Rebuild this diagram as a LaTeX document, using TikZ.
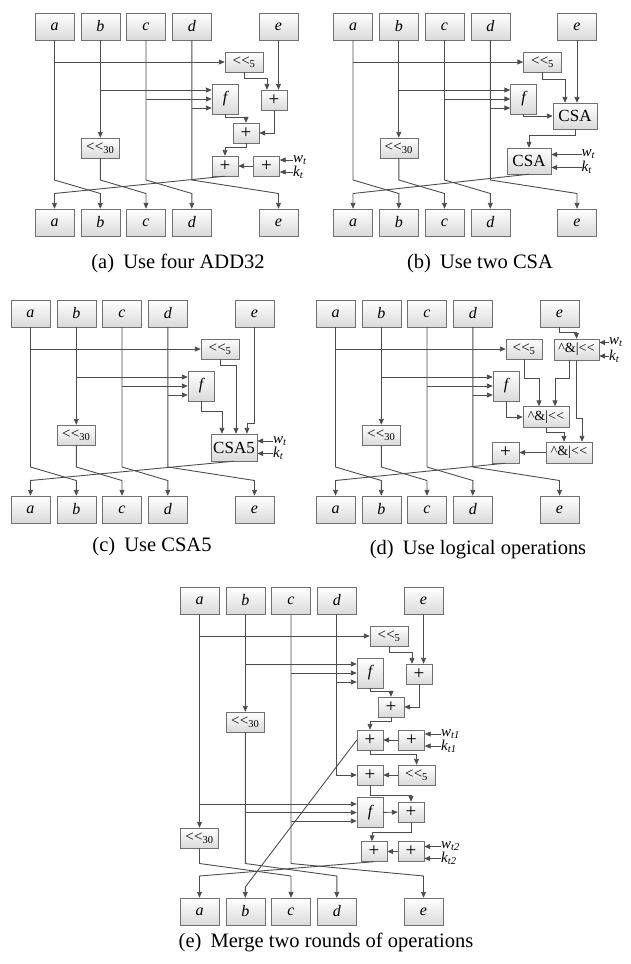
\documentclass[tikz,border=0pt]{standalone}
\usepackage{fontspec}
\setmainfont{Liberation Serif}
\usetikzlibrary{arrows.meta, positioning, calc}
\definecolor{wirecol}{HTML}{4D4D4D}
\definecolor{boxline}{HTML}{707070}
\definecolor{boxtop}{HTML}{FFFFFF}
\definecolor{boxbot}{HTML}{DADADA}
\newcommand{\shl}[1]{\textless\kern0.3pt\textless\textsubscript{#1}}
\newcommand{\ital}[2]{\textit{#1}\textsubscript{#2}}
\newcommand{\logop}{\textasciicircum\&|\textless\kern0.3pt\textless}
\tikzset{
  regbox/.style={draw=boxline, top color=boxtop, bottom color=boxbot,
                 minimum width=39pt, minimum height=27pt, inner sep=0pt,
                 font=\fontsize{16}{16}\selectfont\itshape},
  opbox/.style={draw=boxline, top color=boxtop, bottom color=boxbot,
                minimum width=26pt, minimum height=20pt, inner sep=0pt,
                font=\fontsize{15}{15}\selectfont},
  addbox/.style={opbox, font=\fontsize{19}{19}\selectfont},
  shbox/.style={opbox, minimum width=38pt},
  fnbox/.style={opbox, minimum height=30pt, font=\fontsize{16}{16}\selectfont\itshape},
  csabox/.style={opbox, minimum width=44pt, minimum height=26pt,
                 font=\fontsize{17}{17}\selectfont},
  logbox/.style={opbox, minimum width=46pt, minimum height=21pt,
                 font=\fontsize{14}{14}\selectfont},
  arr/.style={draw=wirecol, line width=0.9pt, -{Triangle[length=6pt,width=5pt]}},
  inlbl/.style={font=\fontsize{15}{15}\selectfont\itshape, inner sep=0pt, anchor=west},
  capt/.style={font=\fontsize{20.5}{22}\selectfont, anchor=base},
}

\begin{document}
\begin{tikzpicture}[x=1pt,y=-1pt]
\useasboundingbox (0,0) rectangle (631,964);

% ---------------- (a) four ADD32
\begin{scope}
  \foreach \r/\x in {a/54.5,b/100.3,c/146,d/191.8,e/278.5} {
    \node[regbox] (A-i\r) at (\x,26.5) {\r};
    \node[regbox] (A-o\r) at (\x,222.5) {\r};
  }
  \coordinate (A-turn) at (0,180);
  \coordinate (A-dend) at (0,193.5);
  \node[shbox] (A-sh5) at (244,62) {\shl{5}};
  \node[fnbox] (A-f) at (225,99) {f};
  \node[addbox] (A-p1) at (274,100) {+};
  \node[addbox] (A-p2) at (246,133) {+};
  \node[addbox] (A-p3) at (225,166) {+};
  \node[addbox] (A-p4) at (266.5,166) {+};
  \node[shbox] (A-sh30) at (100.3,148) {\shl{30}};
  \node[inlbl] (A-w) at (293,160) {\ital{w}{\textit{t}}};
  \node[inlbl] (A-k) at (293,172) {\ital{k}{\textit{t}}};
  \coordinate (A-fi1) at ($(A-f.west)+(0,-9)$);
  \coordinate (A-fi2) at (A-f.west);
  \coordinate (A-fi3) at ($(A-f.west)+(0,9)$);
  % register lines
  \draw[arr] (A-ia) -- (A-ia |- A-turn) -- (A-ob |- A-dend) -- (A-ob);
  \draw[arr] (A-ib) -- (A-sh30);
  \draw[arr] (A-sh30) -- (A-sh30 |- A-turn) -- (A-oc |- A-dend) -- (A-oc);
  \draw[arr] (A-ic) -- (A-ic |- A-turn) -- (A-od |- A-dend) -- (A-od);
  \draw[arr] (A-id) -- (A-id |- A-turn) -- (A-oe |- A-dend) -- (A-oe);
  \draw[arr] (A-ie) -- (A-ie |- A-p1.north);
  % taps
  \draw[arr] (A-ia |- A-sh5) -- (A-sh5);
  \draw[arr] (A-ib |- A-fi1) -- (A-fi1);
  \draw[arr] (A-ic |- A-fi2) -- (A-fi2);
  \draw[arr] (A-id |- A-fi3) -- (A-fi3);
  % adders
  \draw[arr] (A-sh5.south) -- ++(0,6) -| ($(A-p1.north)+(-7,0)$);
  \draw[arr] (A-f.south) -- ++(0,3) -| (A-p2.north);
  \draw[arr] (A-p1) |- (A-p2);
  \draw[arr] (A-p2.south) -- ++(0,4) -| (A-p3.north);
  \draw[arr] (A-p4) -- (A-p3);
  \draw[arr] (A-w.west) -- (A-w.west -| A-p4.east);
  \draw[arr] (A-k.west) -- (A-k.west -| A-p4.east);
  \draw[arr] (A-p3.south) -- (A-oa |- A-dend) -- (A-oa);
  \node[capt] (A-cap) at (178,268) {(a)\hspace{0.45em}Use four ADD32};
\end{scope}

% ---------------- (b) two CSA
\begin{scope}[shift={(298.5,0)}]
  \foreach \r/\x in {a/54.5,b/100.3,c/146,d/191.8,e/278.5} {
    \node[regbox] (B-i\r) at (\x,26.5) {\r};
    \node[regbox] (B-o\r) at (\x,222.5) {\r};
  }
  \coordinate (B-turn) at (0,180);
  \coordinate (B-dend) at (0,193.5);
  \node[shbox] (B-sh5) at (244,62) {\shl{5}};
  \node[fnbox] (B-f) at (225,99) {f};
  \node[csabox] (B-csa1) at (276.5,116) {CSA};
  \node[csabox] (B-csa2) at (230.5,161) {CSA};
  \node[shbox] (B-sh30) at (100.3,148) {\shl{30}};
  \node[inlbl] (B-w) at (283,154.5) {\ital{w}{\textit{t}}};
  \node[inlbl] (B-k) at (283,167.5) {\ital{k}{\textit{t}}};
  \coordinate (B-fi1) at ($(B-f.west)+(0,-9)$);
  \coordinate (B-fi2) at (B-f.west);
  \coordinate (B-fi3) at ($(B-f.west)+(0,9)$);
  \draw[arr] (B-ia) -- (B-ia |- B-turn) -- (B-ob |- B-dend) -- (B-ob);
  \draw[arr] (B-ib) -- (B-sh30);
  \draw[arr] (B-sh30) -- (B-sh30 |- B-turn) -- (B-oc |- B-dend) -- (B-oc);
  \draw[arr] (B-ic) -- (B-ic |- B-turn) -- (B-od |- B-dend) -- (B-od);
  \draw[arr] (B-id) -- (B-id |- B-turn) -- (B-oe |- B-dend) -- (B-oe);
  \draw[arr] (B-ie) -- (B-ie |- B-csa1.north);
  \draw[arr] (B-ia |- B-sh5) -- (B-sh5);
  \draw[arr] (B-ib |- B-fi1) -- (B-fi1);
  \draw[arr] (B-ic |- B-fi2) -- (B-fi2);
  \draw[arr] (B-id |- B-fi3) -- (B-fi3);
  \draw[arr] (B-sh5.south) -- ++(0,7) -| ($(B-csa1.north)+(-10,0)$);
  \draw[arr] (B-f.south) |- (B-csa1);
  \draw[arr] (B-csa1.south) -- ++(0,6) -| (B-csa2.north);
  \draw[arr] (B-w.west) -- (B-w.west -| B-csa2.east);
  \draw[arr] (B-k.west) -- (B-k.west -| B-csa2.east);
  \draw[arr] (B-csa2.south) -- (B-oa |- B-dend) -- (B-oa);
  \node[capt] (B-cap) at (181.5,268) {(b)\hspace{0.45em}Use two CSA};
\end{scope}

% ---------------- (c) CSA5
\begin{scope}[shift={(-24,287)}]
  \foreach \r/\x in {a/54.5,b/100.3,c/146,d/191.8,e/278.5} {
    \node[regbox] (C-i\r) at (\x,26.5) {\r};
    \node[regbox] (C-o\r) at (\x,222.5) {\r};
  }
  \coordinate (C-turn) at (0,180);
  \coordinate (C-dend) at (0,193.5);
  \node[shbox] (C-sh5) at (244,62) {\shl{5}};
  \node[fnbox] (C-f) at (225,99) {f};
  \node[csabox, minimum width=46pt, minimum height=27pt] (C-csa5) at (258,160.5) {CSA5};
  \node[shbox] (C-sh30) at (100.3,148) {\shl{30}};
  \node[inlbl] (C-w) at (297,154) {\ital{w}{\textit{t}}};
  \node[inlbl] (C-k) at (297,166.5) {\ital{k}{\textit{t}}};
  \coordinate (C-fi1) at ($(C-f.west)+(0,-9)$);
  \coordinate (C-fi2) at (C-f.west);
  \coordinate (C-fi3) at ($(C-f.west)+(0,9)$);
  \draw[arr] (C-ia) -- (C-ia |- C-turn) -- (C-ob |- C-dend) -- (C-ob);
  \draw[arr] (C-ib) -- (C-sh30);
  \draw[arr] (C-sh30) -- (C-sh30 |- C-turn) -- (C-oc |- C-dend) -- (C-oc);
  \draw[arr] (C-ic) -- (C-ic |- C-turn) -- (C-od |- C-dend) -- (C-od);
  \draw[arr] (C-id) -- (C-id |- C-turn) -- (C-oe |- C-dend) -- (C-oe);
  \draw[arr] (C-ia |- C-sh5) -- (C-sh5);
  \draw[arr] (C-ib |- C-fi1) -- (C-fi1);
  \draw[arr] (C-ic |- C-fi2) -- (C-fi2);
  \draw[arr] (C-id |- C-fi3) -- (C-fi3);
  \draw[arr] (C-f.south) -- ++(0,10) -| ($(C-csa5.north)+(-12,0)$);
  \draw[arr] (C-sh5.south) -- ++(0,6) -| ($(C-csa5.north)+(2,0)$);
  \draw[arr] (C-ie.south) -- ++(0,96) -| ($(C-csa5.north)+(13,0)$);
  \draw[arr] (C-w.west) -- (C-w.west -| C-csa5.east);
  \draw[arr] (C-k.west) -- (C-k.west -| C-csa5.east);
  \draw[arr] (C-csa5.south) -- (C-oa |- C-dend) -- (C-oa);
  \node[capt] (C-cap) at (176,264) {(c)\hspace{0.45em}Use CSA5};
\end{scope}

% ---------------- (d) logical operations
\begin{scope}[shift={(281,287)}]
  \foreach \r/\x in {a/54.5,b/100.3,c/146,d/191.8,e/278.5} {
    \node[regbox] (D-i\r) at (\x,26.5) {\r};
    \node[regbox] (D-o\r) at (\x,222.5) {\r};
  }
  \coordinate (D-turn) at (0,180);
  \coordinate (D-dend) at (0,193.5);
  \node[shbox, minimum width=36pt] (D-sh5) at (243,62) {\shl{5}};
  \node[fnbox] (D-f) at (225,99) {f};
  \node[logbox, minimum width=45pt] (D-l1) at (295.5,62.5) {\logop};
  \node[logbox] (D-l2) at (265,130) {\logop};
  \node[logbox] (D-l3) at (288,165.5) {\logop};
  \node[addbox, minimum width=27pt, minimum height=21pt] (D-p) at (224.5,165.5) {+};
  \node[shbox] (D-sh30) at (100.3,148) {\shl{30}};
  \node[inlbl] (D-w) at (328,55.5) {\ital{w}{\textit{t}}};
  \node[inlbl] (D-k) at (328,69) {\ital{k}{\textit{t}}};
  \coordinate (D-fi1) at ($(D-f.west)+(0,-9)$);
  \coordinate (D-fi2) at (D-f.west);
  \coordinate (D-fi3) at ($(D-f.west)+(0,9)$);
  \draw[arr] (D-ia) -- (D-ia |- D-turn) -- (D-ob |- D-dend) -- (D-ob);
  \draw[arr] (D-ib) -- (D-sh30);
  \draw[arr] (D-sh30) -- (D-sh30 |- D-turn) -- (D-oc |- D-dend) -- (D-oc);
  \draw[arr] (D-ic) -- (D-ic |- D-turn) -- (D-od |- D-dend) -- (D-od);
  \draw[arr] (D-id) -- (D-id |- D-turn) -- (D-oe |- D-dend) -- (D-oe);
  \draw[arr] (D-ia |- D-sh5) -- (D-sh5);
  \draw[arr] (D-ib |- D-fi1) -- (D-fi1);
  \draw[arr] (D-ic |- D-fi2) -- (D-fi2);
  \draw[arr] (D-id |- D-fi3) -- (D-fi3);
  \draw[arr] (D-ie.south) -- ++(0,5) -| (D-l1.north);
  \draw[arr] (D-w.west) -- (D-w.west -| D-l1.east);
  \draw[arr] (D-k.west) -- (D-k.west -| D-l1.east);
  \draw[arr] (D-sh5.south) -- ++(0,19) -| ($(D-l2.north)+(-7,0)$);
  \draw[arr] ($(D-l1.south)+(-7.5,0)$) -- ++(0,18.5) -| ($(D-l2.north)+(9,0)$);
  \draw[arr] (D-l1.south) -- ++(0,58) -| ($(D-l3.north)+(13,0)$);
  \draw[arr] (D-f.south) |- (D-l2);
  \draw[arr] (D-l2.south) -- ++(0,5) -| ($(D-l3.north)+(-5,0)$);
  \draw[arr] (D-l3) -- (D-p);
  \draw[arr] (D-p.south) -- (D-oa |- D-dend) -- (D-oa);
  \node[capt] (D-cap) at (197,267) {(d)\hspace{0.45em}Use logical operations};
\end{scope}

% ---------------- (e) two rounds merged
\begin{scope}[shift={(145,574)}]
  \foreach \r/\x in {a/54.5,b/100.3,c/146,d/191.8,e/278.5} {
    \node[regbox] (E-i\r) at (\x,26.5) {\r};
    \node[regbox] (E-o\r) at (\x,337.5) {\r};
  }
  \coordinate (E-turn) at (0,289.5);
  \coordinate (E-dend) at (0,302);
  \coordinate (E-bend) at (0,313);
  % first round
  \node[shbox] (E-sh5a) at (244,62) {\shl{5}};
  \node[fnbox] (E-f1) at (225,99) {f};
  \node[addbox] (E-pa) at (274,100) {+};
  \node[addbox] (E-pb) at (246,133) {+};
  \node[addbox] (E-pc) at (225,166) {+};
  \node[addbox] (E-pd) at (266.5,166) {+};
  \node[shbox] (E-sh30a) at (100.3,148) {\shl{30}};
  \node[inlbl] (E-w1) at (296,160) {\ital{w}{\textit{t}1}};
  \node[inlbl] (E-k1) at (296,172) {\ital{k}{\textit{t}1}};
  % second round
  \node[shbox, minimum width=37pt] (E-sh5b) at (271.5,201) {\shl{5}};
  \node[addbox] (E-pe) at (225,201) {+};
  \node[fnbox] (E-f2) at (225,238.5) {f};
  \node[addbox] (E-pg) at (266,238) {+};
  \node[addbox] (E-pf) at (229,277.5) {+};
  \node[addbox] (E-ph) at (266,277.5) {+};
  \node[shbox] (E-sh30b) at (54.5,264) {\shl{30}};
  \node[inlbl] (E-w2) at (296,272.5) {\ital{w}{\textit{t}2}};
  \node[inlbl] (E-k2) at (296,284.5) {\ital{k}{\textit{t}2}};
  \coordinate (E-fi1) at ($(E-f1.west)+(0,-9)$);
  \coordinate (E-fi2) at (E-f1.west);
  \coordinate (E-fi3) at ($(E-f1.west)+(0,9)$);
  \coordinate (E-gi1) at ($(E-f2.west)+(0,-8.5)$);
  \coordinate (E-gi2) at (E-f2.west);
  \coordinate (E-gi3) at ($(E-f2.west)+(0,8.5)$);
  % register lines
  \draw[arr] (E-ia) -- (E-sh30b);
  \draw[arr] (E-sh30b) -- (E-sh30b |- E-turn) -- (E-oc |- E-dend) -- (E-oc);
  \draw[arr] (E-ib) -- (E-sh30a);
  \draw[arr] (E-sh30a) -- (E-sh30a |- E-turn) -- (E-od |- E-dend) -- (E-od);
  \draw[arr] (E-ic) -- (E-ic |- E-turn) -- (E-oe |- E-dend) -- (E-oe);
  \draw[arr] (E-id) |- (E-pe);
  \draw[arr] (E-ie) -- (E-ie |- E-pa.north);
  % taps
  \draw[arr] (E-ia |- E-sh5a) -- (E-sh5a);
  \draw[arr] (E-ib |- E-fi1) -- (E-fi1);
  \draw[arr] (E-ic |- E-fi2) -- (E-fi2);
  \draw[arr] (E-id |- E-fi3) -- (E-fi3);
  \draw[arr] (E-ia |- E-gi1) -- (E-gi1);
  \draw[arr] (E-sh30a |- E-gi2) -- (E-gi2);
  \draw[arr] (E-ic |- E-gi3) -- (E-gi3);
  % first round adders
  \draw[arr] (E-sh5a.south) -- ++(0,6) -| ($(E-pa.north)+(-7,0)$);
  \draw[arr] (E-f1.south) -- ++(0,3) -| (E-pb.north);
  \draw[arr] (E-pa) |- (E-pb);
  \draw[arr] (E-pb.south) -- ++(0,4) -| (E-pc.north);
  \draw[arr] (E-pd) -- (E-pc);
  \draw[arr] (E-w1.west) -- (E-w1.west -| E-pd.east);
  \draw[arr] (E-k1.west) -- (E-k1.west -| E-pd.east);
  % second round adders
  \draw[arr] (E-pc.south) -- ++(0,4) -| (E-sh5b.north);
  \draw[arr] (E-pc.west) -- (E-ob |- E-bend) -- (E-ob);
  \draw[arr] (E-sh5b) -- (E-pe);
  \draw[arr] (E-pe.south) -- ++(0,10) -| (E-pg.north);
  \draw[arr] (E-f2) -- (E-pg);
  \draw[arr] (E-pg.south) -- ++(0,10) -| ($(E-pf.north)+(-2,0)$);
  \draw[arr] (E-ph) -- (E-pf);
  \draw[arr] (E-w2.west) -- (E-w2.west -| E-ph.east);
  \draw[arr] (E-k2.west) -- (E-k2.west -| E-ph.east);
  \draw[arr] (E-pf.south) -- (E-oa |- E-dend) -- (E-oa);
  \node[capt] (E-cap) at (181,373) {(e)\hspace{0.45em}Merge two rounds of operations};
\end{scope}
\end{tikzpicture}
\end{document}
